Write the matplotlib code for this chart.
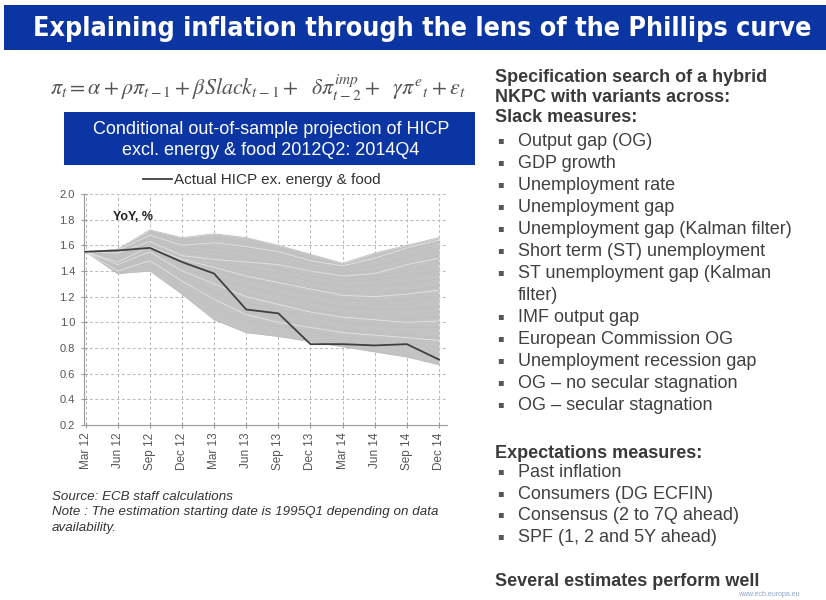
import matplotlib
matplotlib.use("Agg")
import matplotlib.pyplot as plt
from matplotlib.patches import Rectangle
import numpy as np

# ---------------- data ----------------
quarters = ["Mar 12", "Jun 12", "Sep 12", "Dec 12", "Mar 13", "Jun 13",
            "Sep 13", "Dec 13", "Mar 14", "Jun 14", "Sep 14", "Dec 14"]
actual = [1.55, 1.56, 1.58, 1.47, 1.38, 1.10, 1.07, 0.83, 0.83, 0.82, 0.83, 0.71]

proj_01 = [1.55, 1.57, 1.72, 1.66, 1.69, 1.66, 1.60, 1.53, 1.46, 1.54, 1.60, 1.66]
proj_02 = [1.55, 1.56, 1.70, 1.64, 1.66, 1.62, 1.58, 1.50, 1.42, 1.48, 1.56, 1.63]
proj_03 = [1.55, 1.55, 1.68, 1.62, 1.62, 1.58, 1.54, 1.47, 1.40, 1.44, 1.50, 1.58]
proj_04 = [1.55, 1.52, 1.66, 1.60, 1.58, 1.55, 1.50, 1.43, 1.38, 1.40, 1.46, 1.52]
proj_05 = [1.55, 1.50, 1.64, 1.57, 1.55, 1.50, 1.46, 1.40, 1.35, 1.36, 1.40, 1.46]
proj_06 = [1.55, 1.48, 1.62, 1.55, 1.52, 1.46, 1.42, 1.36, 1.32, 1.33, 1.36, 1.40]
proj_07 = [1.55, 1.46, 1.60, 1.52, 1.48, 1.42, 1.38, 1.32, 1.28, 1.28, 1.30, 1.34]
proj_08 = [1.55, 1.45, 1.58, 1.48, 1.44, 1.38, 1.33, 1.27, 1.24, 1.22, 1.24, 1.28]
proj_09 = [1.55, 1.43, 1.56, 1.45, 1.40, 1.34, 1.28, 1.22, 1.18, 1.16, 1.18, 1.20]
proj_10 = [1.55, 1.42, 1.54, 1.42, 1.35, 1.28, 1.22, 1.16, 1.12, 1.10, 1.10, 1.12]
proj_11 = [1.55, 1.41, 1.52, 1.38, 1.30, 1.22, 1.16, 1.10, 1.06, 1.04, 1.03, 1.04]
proj_12 = [1.55, 1.40, 1.50, 1.35, 1.24, 1.15, 1.10, 1.04, 1.00, 0.98, 0.96, 0.96]
proj_13 = [1.55, 1.39, 1.47, 1.31, 1.18, 1.08, 1.03, 0.98, 0.94, 0.92, 0.90, 0.88]
proj_14 = [1.55, 1.38, 1.44, 1.27, 1.12, 1.02, 0.97, 0.93, 0.88, 0.86, 0.84, 0.80]
proj_15 = [1.55, 1.38, 1.40, 1.22, 1.02, 0.92, 0.89, 0.85, 0.81, 0.77, 0.73, 0.67]
projections = [proj_01, proj_02, proj_03, proj_04, proj_05, proj_06, proj_07, proj_08,
               proj_09, proj_10, proj_11, proj_12, proj_13, proj_14, proj_15]

# white streaks between projection lines
streak_a = [1.55, 1.54, 1.63, 1.52, 1.49, 1.47, 1.45, 1.40, 1.36, 1.38, 1.45, 1.50]
streak_b = [1.55, 1.45, 1.55, 1.40, 1.30, 1.20, 1.14, 1.08, 1.04, 1.02, 1.00, 1.01]
streak_c = [1.55, 1.40, 1.48, 1.32, 1.18, 1.06, 1.00, 0.96, 0.92, 0.90, 0.88, 0.86]
streak_d = [1.55, 1.56, 1.68, 1.60, 1.62, 1.59, 1.55, 1.48, 1.44, 1.50, 1.58, 1.64]
streak_e = [1.55, 1.47, 1.59, 1.49, 1.43, 1.36, 1.31, 1.26, 1.21, 1.20, 1.22, 1.25]
streaks = [streak_a, streak_b, streak_c, streak_d, streak_e]

yticks = [0.2, 0.4, 0.6, 0.8, 1.0, 1.2, 1.4, 1.6, 1.8, 2.0]

title = "Explaining inflation through the lens of the Phillips curve"
box_title = "Conditional out-of-sample projection of HICP\nexcl. energy & food 2012Q2: 2014Q4"
legend_label = "Actual HICP ex. energy & food"
unit_label = "YoY, %"
source_lines = ["Source: ECB staff calculations",
                "Note : The estimation starting date is 1995Q1 depending on data",
                "availability."]
header_lines = ["Specification search of a hybrid", "NKPC with variants across:",
                "Slack measures:"]
slack_items = ["Output gap (OG)", "GDP growth", "Unemployment rate", "Unemployment gap",
               "Unemployment gap (Kalman filter)", "Short term (ST) unemployment",
               "ST unemployment gap (Kalman\nfilter)", "IMF output gap",
               "European Commission OG", "Unemployment recession gap",
               "OG \u2013 no secular stagnation", "OG \u2013 secular stagnation"]
expect_header = "Expectations measures:"
expect_items = ["Past inflation", "Consumers (DG ECFIN)", "Consensus (2 to 7Q ahead)",
                "SPF (1, 2 and 5Y ahead)"]
conclusion = "Several estimates perform well"
website = "www.ecb.europa.eu"

# ---------------- figure ----------------
W, H = 826, 600
fig = plt.figure(figsize=(W / 100, H / 100), dpi=100)
fig.patch.set_facecolor("white")

def fx(px):
    return px / W

def fy(py):
    return 1 - py / H

BLUE = "#0a35a3"
# title bar
fig.patches.append(Rectangle((fx(4), fy(50)), fx(822), 45 / H, transform=fig.transFigure,
                             facecolor=BLUE, edgecolor="none", zorder=0))
fig.text(fx(422), fy(29), title, color="white", fontsize=19.3, fontweight="bold",
         family="DejaVu Sans", fontstretch="condensed", ha="center", va="center")

# equation
plt.rcParams["mathtext.fontset"] = "stix"
eq = (r"$\pi_t = \alpha + \rho\pi_{t-1} + \beta Slack_{t-1} +\ \ \delta\pi_{t-2}^{imp}"
      r" +\ \ \gamma\pi^{e}{}_{t} + \varepsilon_t$")
fig.text(fx(50), fy(88), eq, color="#555555", fontsize=15.8, ha="left", va="center")

# blue box
fig.patches.append(Rectangle((fx(64), fy(165)), fx(411), 53 / H, transform=fig.transFigure,
                             facecolor=BLUE, edgecolor="none", zorder=0))
fig.text(fx(271), fy(140), box_title, color="white", fontsize=13,
         family="Liberation Sans", ha="center", va="center", linespacing=1.35)

# ---------------- chart ----------------
ax = fig.add_axes([fx(84), fy(425), fx(447 - 84), (425 - 194) / H])
x = np.arange(len(quarters))
P = np.array(projections)
ax.fill_between(x, P.min(axis=0), P.max(axis=0), color="#c3c3c3", lw=0, zorder=2)
for p in projections:
    ax.plot(x, p, color="#bfbfbf", lw=0.6, zorder=3)
for s in streaks:
    ax.plot(x, s, color="white", lw=0.6, alpha=0.55, zorder=3)
ax.plot(x, actual, color="#404040", lw=1.3, zorder=5, label=legend_label)

ax.set_xlim(-0.05, 11.25)
ax.set_ylim(0.2, 2.0)
ax.set_yticks(yticks)
ax.set_yticklabels([f"{v:.1f}" for v in yticks])
ax.set_xticks(x)
ax.set_xticklabels(quarters, rotation=90)
ax.grid(True, color="#b8b8b8", lw=0.7, ls=(0, (3, 2.5)), zorder=1)
for sp in ["top", "right"]:
    ax.spines[sp].set_visible(False)
for sp in ["left", "bottom"]:
    ax.spines[sp].set_color("#9a9a9a")
ax.tick_params(axis="both", direction="inout", length=5, color="#9a9a9a",
               labelcolor="#555555")
ax.tick_params(axis="x", labelsize=8.5, pad=3)
ax.tick_params(axis="y", labelsize=8, pad=4)
for lab in ax.get_xticklabels() + ax.get_yticklabels():
    lab.set_family("Liberation Sans")
ax.text(0.08, 0.9, unit_label, transform=ax.transAxes, fontsize=9, color="#222222",
        family="Liberation Sans", fontweight="bold", ha="left", va="center")
leg = ax.legend(loc="lower center", bbox_to_anchor=(0.49, 1.0), frameon=False,
                handlelength=1.9, handletextpad=0.15, borderaxespad=0.05,
                prop={"family": "Liberation Sans", "size": 11})
for t in leg.get_texts():
    t.set_color("#333333")

# source text
for i, line in enumerate(source_lines):
    fig.text(fx(52), fy(497 + i * 15.5), line, fontsize=9.6, style="italic",
             family="Liberation Sans", color="#333333", ha="left", va="center")

# ---------------- right column ----------------
HDR = "#3a3a3a"
TXT = "#404040"
y = 77
for line in header_lines:
    fig.text(fx(495), fy(y + 1), line, fontsize=13, fontweight="bold", family="Liberation Sans",
             color=HDR, ha="left", va="center")
    y += 20

def bullet_list(items, y0, step=22):
    y = y0
    for item in items:
        n = item.count("\n") + 1
        fig.text(fx(497), fy(y - 3), "\u25aa", fontsize=7, family="DejaVu Sans", color="#555555",
                 ha="left", va="center")
        fig.text(fx(518), fy(y - 10), item, fontsize=13, family="Liberation Sans",
                 color=TXT, ha="left", va="top", linespacing=1.42)
        y += step * n
    return y

bullet_list(slack_items, 143, 22)
fig.text(fx(495), fy(453), expect_header, fontsize=13, fontweight="bold",
         family="Liberation Sans", color=HDR, ha="left", va="center")
bullet_list(expect_items, 474, 21.7)
fig.text(fx(495), fy(582), conclusion, fontsize=13, fontweight="bold",
         family="Liberation Sans", color=HDR, ha="left", va="center")
fig.text(fx(800), fy(594), website, fontsize=5, family="Liberation Sans",
         color="#8fa6c8", ha="right", va="center")

fig.savefig("out.png", dpi=100)
